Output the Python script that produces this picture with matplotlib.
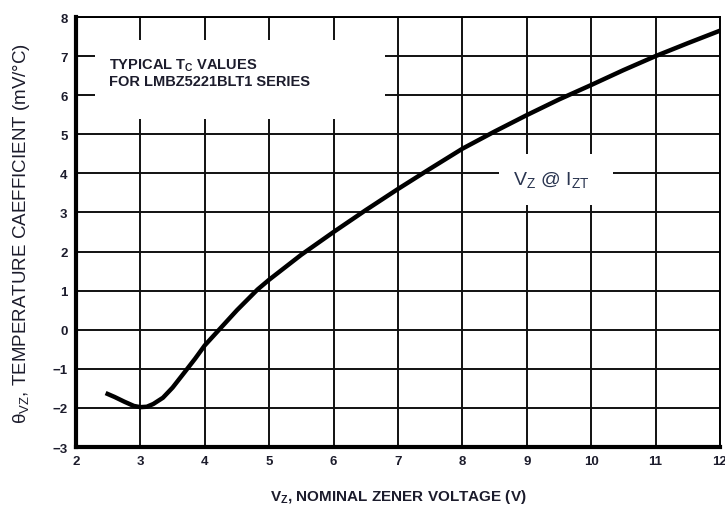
import matplotlib
matplotlib.use('Agg')
import matplotlib.pyplot as plt
from matplotlib.patches import Rectangle

plt.rcParams['font.family'] = ['Liberation Sans', 'DejaVu Sans']
plt.rcParams['mathtext.fontset'] = 'custom'
plt.rcParams['mathtext.rm'] = 'Liberation Sans'
plt.rcParams['mathtext.it'] = 'Liberation Sans'
plt.rcParams['mathtext.bf'] = 'Liberation Sans:bold'

# curve
vz = [2.46, 2.6, 2.75, 2.9, 3.0, 3.1, 3.2, 3.35, 3.5, 3.69, 3.85, 4.0, 4.25, 4.5,
      4.82, 5.0, 5.25, 5.5, 6.0, 6.5, 7.0, 7.5, 8.0, 8.5, 9.0, 9.5, 10.0, 10.5, 11.0, 11.5, 12.0]
tc = [-1.62, -1.72, -1.84, -1.95, -1.98, -1.97, -1.9, -1.74, -1.48, -1.08, -0.74, -0.4, 0.05, 0.5,
      1.03, 1.28, 1.6, 1.92, 2.5, 3.06, 3.6, 4.12, 4.63, 5.07, 5.49, 5.89, 6.26, 6.64, 7.0, 7.33, 7.65]

xticks = [2, 3, 4, 5, 6, 7, 8, 9, 10, 11, 12]
yticks = [-3, -2, -1, 0, 1, 2, 3, 4, 5, 6, 7, 8]
ytick_labels = ['\u22123', '\u22122', '\u22121', '0', '1', '2', '3', '4', '5', '6', '7', '8']

txt_col = '#1c1c2c'

fig = plt.figure(figsize=(7.25, 5.06), dpi=100)
ax = fig.add_axes([0.1048, 0.1146, 0.8882, 0.8498])

ax.set_xlim(2, 12)
ax.set_ylim(-3, 8)
ax.set_xticks(xticks)
ax.set_yticks(yticks)
ax.set_xticklabels([str(t) for t in xticks], fontweight='bold', fontsize=9.5, color=txt_col)
ax.set_yticklabels(ytick_labels, fontweight='bold', fontsize=9.5, color=txt_col)
ax.tick_params(length=0, pad=6)
ax.grid(True, color='#111111', linewidth=1.4, zorder=1)
ax.set_axisbelow(True)

for s in ['left', 'bottom']:
    ax.spines[s].set_linewidth(3)
for s in ['top', 'right']:
    ax.spines[s].set_linewidth(1.4)

# white boxes behind the labels cut the grid
ax.add_patch(Rectangle((2.3, 5.4), 4.5, 2.0, facecolor='white', edgecolor='none', zorder=2))
ax.add_patch(Rectangle((8.57, 3.2), 1.77, 1.3, facecolor='white', edgecolor='none', zorder=2))

ax.plot(vz, tc, color='black', linewidth=3.2, solid_capstyle='butt', solid_joinstyle='round', zorder=4)

ax.text(2.52, 6.98, 'TYPICAL T$_\\mathbf{C}$ VALUES\nFOR LMBZ5221BLT1 SERIES', fontsize=10.5,
        fontweight='bold', color=txt_col, va='top', ha='left', linespacing=1.05, zorder=5)
ax.text(9.38, 3.85, 'V$_\\mathrm{Z}$ @ I$_\\mathrm{ZT}$', fontsize=14, color='#2a3550',
        ha='center', va='center', zorder=5)

ax.set_xlabel('V$_\\mathbf{Z}$, NOMINAL ZENER VOLTAGE (V)', fontsize=11, fontweight='bold',
              color=txt_col, labelpad=14)
ax.set_ylabel('\u03b8$_\\mathrm{VZ}$, TEMPERATURE CAEFFICIENT (mV/\u00b0C)', fontsize=13.5,
              color=txt_col, labelpad=15)

fig.savefig('out.png', dpi=100)
